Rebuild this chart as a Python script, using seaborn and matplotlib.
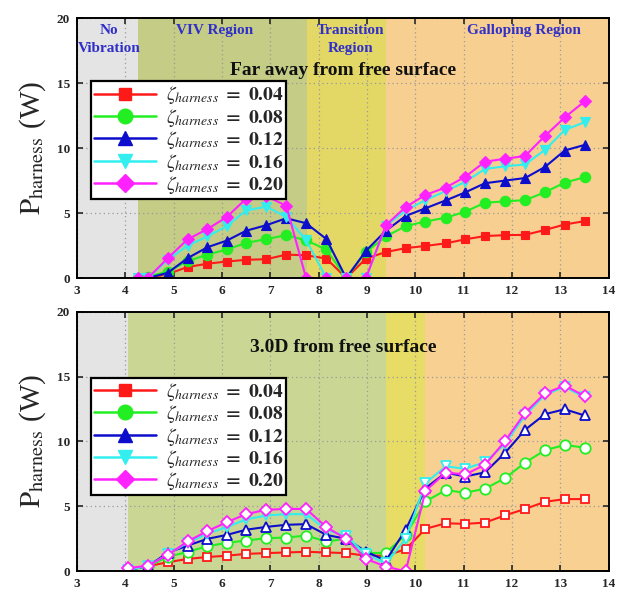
import numpy as np
import pandas as pd
import matplotlib
matplotlib.use("Agg")
import matplotlib.pyplot as plt
from matplotlib.lines import Line2D
import seaborn as sns

########## Data ##########

zeta_labels = ["0.04", "0.08", "0.12", "0.16", "0.20"]

# Far away from free surface
x_far = [4.26, 4.47, 4.88, 5.29, 5.70, 6.10, 6.50, 6.92, 7.33, 7.74, 8.16, 8.57,
         8.98, 9.39, 9.80, 10.21, 10.63, 11.03, 11.44, 11.85, 12.27, 12.68, 13.09, 13.50]
far_004 = [0.0, 0.0, 0.3, 0.85, 1.1, 1.27, 1.4, 1.45, 1.8, 1.75, 1.5, 0.0,
           1.5, 2.0, 2.3, 2.47, 2.67, 2.98, 3.23, 3.3, 3.32, 3.7, 4.12, 4.38]
far_008 = [0.0, 0.1, 0.5, 1.3, 1.8, 2.2, 2.7, 3.0, 3.3, 2.9, 2.2, 0.0,
           2.0, 3.2, 4.0, 4.35, 4.65, 5.1, 5.8, 5.9, 6.0, 6.6, 7.35, 7.76]
far_012 = [0.0, 0.0, 0.4, 1.53, 2.37, 2.88, 3.64, 4.07, 4.6, 4.22, 3.0, 0.0,
           2.1, 3.64, 4.78, 5.37, 5.98, 6.59, 7.3, 7.5, 7.7, 8.55, 9.82, 10.25]
far_016 = [0.0, 0.0, 1.4, 2.5, 3.2, 4.0, 5.2, 5.5, 4.7, 2.93, 0.0, 0.0,
           0.0, 4.0, 5.2, 6.0, 6.7, 7.4, 8.4, 8.6, 8.75, 9.87, 11.4, 12.0]
far_020 = [0.0, 0.0, 1.53, 2.98, 3.77, 4.7, 6.1, 6.3, 5.57, 0.0, 0.0, 0.0,
           0.0, 4.07, 5.47, 6.4, 6.97, 7.79, 8.96, 9.18, 9.4, 10.94, 12.37, 13.6]

# 3.0D from free surface
x_near = [4.05, 4.47, 4.88, 5.29, 5.70, 6.10, 6.50, 6.92, 7.33, 7.74, 8.16, 8.57,
          8.98, 9.39, 9.80, 10.21, 10.63, 11.03, 11.44, 11.85, 12.27, 12.68, 13.09, 13.50]
near_004 = [0.1, 0.39, 0.7, 0.95, 1.1, 1.2, 1.34, 1.4, 1.45, 1.5, 1.45, 1.4,
            1.2, 1.2, 1.7, 3.27, 3.7, 3.65, 3.75, 4.3, 4.8, 5.35, 5.56, 5.56]
near_008 = [0.1, 0.4, 1.1, 1.5, 1.93, 2.19, 2.37, 2.55, 2.6, 2.75, 2.3, 2.5,
            1.4, 1.42, 2.8, 5.38, 6.25, 6.05, 6.36, 7.16, 8.37, 9.32, 9.73, 9.52]
near_012 = [0.1, 0.4, 1.42, 1.98, 2.5, 2.8, 3.2, 3.42, 3.58, 3.63, 2.8, 2.5,
            1.52, 0.82, 3.2, 6.4, 7.6, 7.3, 7.62, 9.1, 10.9, 12.1, 12.48, 12.0]
near_016 = [0.1, 0.4, 1.3, 2.2, 2.9, 3.4, 4.0, 4.3, 4.4, 4.4, 3.2, 2.7,
            1.3, 0.6, 2.5, 6.8, 8.08, 7.9, 8.4, 9.8, 12.0, 13.6, 14.2, 13.4]
near_020 = [0.23, 0.44, 1.26, 2.3, 3.1, 3.78, 4.4, 4.74, 4.8, 4.8, 3.4, 2.5,
            0.95, 0.36, 0.0, 6.2, 7.6, 7.46, 8.2, 10.0, 12.2, 13.7, 14.3, 13.5]

# Region boundaries (x) for each panel
far_bounds = [3, 4.26, 7.76, 9.39, 14]
near_bounds = [3, 4.05, 9.39, 10.21, 14]
region_names = ["No\nVibration", "VIV Region", "Transition\nRegion", "Galloping Region"]
region_x = [3.66, 5.85, 8.66, 12.24]

########## Style ##########

sns.set_style("ticks")
plt.rcParams['font.family'] = ['Liberation Serif', 'DejaVu Serif']
plt.rcParams['mathtext.fontset'] = 'stix'

colors = ["#ff1a1a", "#22ee22", "#0d0dcc", "#33eeee", "#ff22ff"]
markers = ["s", "o", "^", "v", "D"]
msizes = [6, 7.5, 7.5, 7.5, 6.5]
far_regions = ["#e4e4e4", "#c4cc86", "#e3d866", "#f7cf90"]
near_regions = ["#e4e4e4", "#cad794", "#e6dc66", "#f8d092"]

fig = plt.figure(figsize=(6.25, 6.11), dpi=100)
ax_far = fig.add_axes([0.123, 0.545, 0.851, 0.425])
ax_near = fig.add_axes([0.123, 0.065, 0.851, 0.425])


def draw_panel(ax, x, series, bounds, reg_colors, title, title_y, hollow, legend_top):
    # background regions
    for i in range(4):
        ax.axvspan(bounds[i], bounds[i + 1], color=reg_colors[i], lw=0, zorder=0)

    for ys, c, m, ms in zip(series, colors, markers, msizes):
        df = pd.DataFrame({"x": x, "y": ys})
        sns.lineplot(data=df, x="x", y="y", ax=ax, color=c, marker=m, markersize=ms,
                     markeredgecolor=c, markerfacecolor="white" if hollow else c,
                     markeredgewidth=1.3 if hollow else 0.8, linewidth=1.5,
                     legend=False, zorder=3)

    ax.set_xlim(3, 14)
    ax.set_ylim(0, 20)
    ax.set_xticks(range(3, 15))
    ax.set_yticks([0, 5, 10, 15, 20])
    ax.grid(True, color="#999999", linestyle=(0, (1, 2.5)), linewidth=0.9)
    ax.set_axisbelow(False)
    for line in ax.get_xgridlines() + ax.get_ygridlines():
        line.set_zorder(1)
    ax.tick_params(direction="in", top=True, right=True, length=4, width=1.2,
                   labelsize=9.5, pad=5)
    for lbl in ax.get_xticklabels() + ax.get_yticklabels():
        lbl.set_fontweight("bold")
    for sp in ax.spines.values():
        sp.set_linewidth(1.4)
        sp.set_color("black")
        sp.set_zorder(5)
    ax.set_xlabel("")
    ax.set_ylabel(r"$\mathrm{P_{harness}}$ (W)", fontsize=21, labelpad=6)

    ax.text(8.5, title_y, title, ha="center", va="center", fontsize=14,
            fontweight="bold", color="#111111", zorder=4)

    handles = [Line2D([0], [0], color=c, marker=m, markersize=ms + 3, markerfacecolor=c,
                      markeredgecolor=c, linewidth=1.8)
               for c, m, ms in zip(colors, markers, msizes)]
    labels = [r"$\zeta_{harness}$ $\mathbf{=\ %s}$" % z for z in zeta_labels]
    leg = ax.legend(handles, labels, loc="upper left", bbox_to_anchor=(0.026, legend_top),
                    borderaxespad=0, fontsize=14, handlelength=3.2, labelspacing=0.02,
                    handletextpad=0.5, borderpad=0.15, fancybox=False, framealpha=1,
                    edgecolor="black")
    leg.get_frame().set_linewidth(1.6)
    leg.set_zorder(6)


draw_panel(ax_far, x_far, [far_004, far_008, far_012, far_016, far_020], far_bounds,
           far_regions, "Far away from free surface", 16.0, False, 0.757)
draw_panel(ax_near, x_near, [near_004, near_008, near_012, near_016, near_020], near_bounds,
           near_regions, "3.0D from free surface", 17.2, True, 0.745)

# region names only on the top panel
for name, rx in zip(region_names, region_x):
    ax_far.text(rx, 19.6, name, ha="center", va="top", fontsize=11, fontweight="bold",
                color="#3030c8", linespacing=1.55, zorder=4)

fig.savefig("out.png", dpi=100)
